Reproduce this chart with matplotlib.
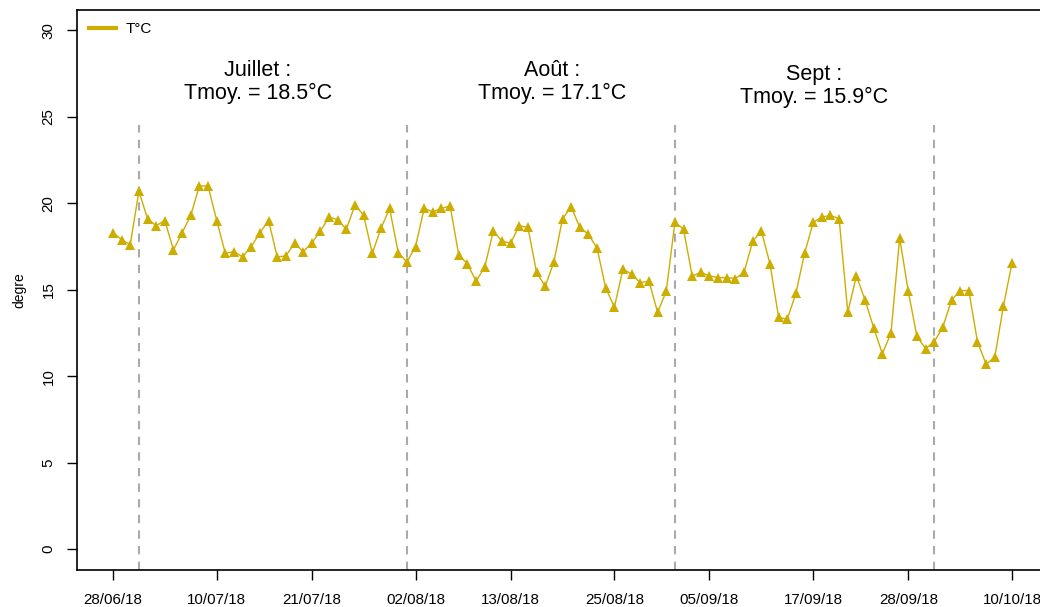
import numpy as np
import pandas as pd
import matplotlib
matplotlib.use("Agg")
import matplotlib.pyplot as plt

plt.rcParams['font.family'] = ['Liberation Sans', 'DejaVu Sans']

# Daily mean temperature, 28/06/2018 -> 10/10/2018
start = "2018-06-28"
temps = [
    18.3, 17.9, 17.6, 20.7, 19.1, 18.7, 19.0, 17.3, 18.3, 19.3,
    21.0, 21.0, 19.0, 17.1, 17.2, 16.9, 17.5, 18.3, 19.0, 16.9,
    16.95, 17.7, 17.2, 17.7, 18.4, 19.2, 19.05, 18.5, 19.9, 19.3,
    17.1, 18.55, 19.7, 17.15, 16.6, 17.5, 19.7, 19.5, 19.7, 19.85,
    17.0, 16.5, 15.5, 16.3, 18.4, 17.8, 17.7, 18.7, 18.6, 16.0,
    15.2, 16.6, 19.1, 19.8, 18.6, 18.2, 17.4, 15.1, 14.0, 16.2,
    15.9, 15.4, 15.5, 13.7, 14.9, 18.9, 18.5, 15.8, 16.0, 15.8,
    15.7, 15.7, 15.65, 16.0, 17.8, 18.4, 16.5, 13.4, 13.3, 14.8,
    17.1, 18.9, 19.2, 19.3, 19.1, 13.7, 15.8, 14.4, 12.8, 11.3,
    12.5, 18.0, 14.9, 12.3, 11.6, 12.0, 12.85, 14.4, 14.95, 14.95,
    12.0, 10.7, 11.1, 14.05, 16.55,
]
dates = pd.date_range(start, periods=len(temps), freq="D")

# Month boundaries and monthly means
month_starts = ["2018-07-01", "2018-08-01", "2018-09-01", "2018-10-01"]
month_names = ["Juillet", "Août", "Sept"]
month_means = [18.5, 17.1, 15.9]
label_dates = ["2018-07-14 18:00", "2018-08-17 18:00", "2018-09-17 03:00"]
label_heights = [27.03, 27.03, 26.8]

tick_labels = ["28/06/18", "10/07/18", "21/07/18", "02/08/18", "13/08/18",
               "25/08/18", "05/09/18", "17/09/18", "28/09/18", "10/10/18"]

line_color = "#CDAD00"

fig = plt.figure(figsize=(10.4, 6.07), dpi=100)
ax = fig.add_axes([77 / 1040, 37 / 607, 971 / 1040, 560.5 / 607])

for d in month_starts:
    ax.plot([pd.Timestamp(d)] * 2, [-1.2, 24.5], color="#AAAAAA", lw=1.5,
            linestyle=(0, (4, 3.5)), zorder=1)

ax.plot(dates, temps, color=line_color, lw=1.0, marker="^", markersize=6.8,
        markeredgewidth=0, label="T°C", zorder=3)

for name, mean, d, h in zip(month_names, month_means, label_dates, label_heights):
    ax.text(pd.Timestamp(d), h, f"{name} :\nTmoy. = {mean}°C", ha="center",
            va="center", fontsize=15.5, linespacing=1.13)

span = (dates[-1] - dates[0]) * 0.04
ax.set_xlim(dates[0] - span, dates[-1] + span)
ax.set_ylim(-1.2, 31.2)

tick_dates = pd.to_datetime(tick_labels, format="%d/%m/%y")
ax.set_xticks(tick_dates)
ax.set_xticklabels(tick_labels)
ax.set_yticks([0, 5, 10, 15, 20, 25, 30])
ax.set_yticklabels(["0", "5", "10", "15", "20", "25", "30"], rotation=90,
                   va="center")
ax.tick_params(axis="both", length=7.5, width=1.0, labelsize=10.9, pad=8)
ax.tick_params(axis="x", pad=9)
for s in ax.spines.values():
    s.set_linewidth(1.2)

ax.set_ylabel("degre", fontsize=10, labelpad=11)

leg_handle = plt.Line2D([], [], color=line_color, lw=3)
ax.legend([leg_handle], ["T°C"], loc="upper left", frameon=False,
          fontsize=11, handlelength=1.75, handletextpad=0.6,
          borderaxespad=0.0, bbox_to_anchor=(0.0065, 0.988))

fig.savefig("out.png", dpi=100)
